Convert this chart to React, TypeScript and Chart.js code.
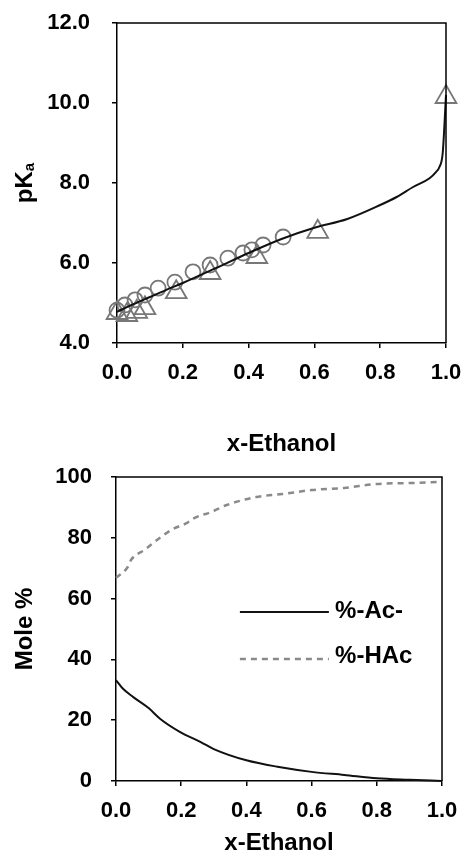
import React, { useEffect, useRef } from "react";
import { Chart, registerables } from "chart.js";

Chart.register(...registerables);

const FONT = "'Liberation Sans', Arial, Helvetica, sans-serif";

// ---------- Top chart: pKa vs x-Ethanol ----------
const pkaCurveX = [0, 0.05, 0.1, 0.15, 0.2, 0.3, 0.4, 0.5, 0.6, 0.7, 0.8, 0.85, 0.9, 0.95, 0.97, 0.98, 0.99, 1.0];
const pkaCurveY = [4.78, 4.97, 5.15, 5.33, 5.5, 5.87, 6.25, 6.6, 6.88, 7.1, 7.45, 7.65, 7.9, 8.12, 8.28, 8.4, 8.75, 10.2];
const circleX = [0.0, 0.024, 0.055, 0.085, 0.125, 0.176, 0.231, 0.283, 0.337, 0.383, 0.41, 0.444, 0.505];
const circleY = [4.82, 4.95, 5.08, 5.2, 5.37, 5.52, 5.78, 5.95, 6.12, 6.25, 6.33, 6.45, 6.65];
const triangleX = [0.0, 0.03, 0.06, 0.085, 0.18, 0.283, 0.425, 0.61, 1.0];
const triangleY = [4.75, 4.7, 4.78, 4.87, 5.27, 5.75, 6.15, 6.78, 10.15];

const xTickValues = [0, 0.2, 0.4, 0.6, 0.8, 1.0];
const xTickLabels = ["0.0", "0.2", "0.4", "0.6", "0.8", "1.0"];
const pkaTickValues = [4, 6, 8, 10, 12];
const pkaTickLabels = ["4.0", "6.0", "8.0", "10.0", "12.0"];

// ---------- Bottom chart: Mole % vs x-Ethanol ----------
const acX = [0, 0.02, 0.053, 0.1, 0.135, 0.197, 0.26, 0.3, 0.4, 0.5, 0.6, 0.7, 0.8, 0.9, 1.0];
const acY = [33.2, 30.5, 27.6, 24, 20.5, 16.1, 12.8, 10.5, 6.8, 4.6, 3.0, 2.0, 0.9, 0.4, 0];
const hacX = [0, 0.036, 0.046, 0.087, 0.135, 0.175, 0.218, 0.24, 0.293, 0.34, 0.43, 0.51, 0.6, 0.7, 0.8, 0.9, 1.0];
const hacY = [66.8, 70.4, 72.7, 76, 80, 82.9, 84.9, 86.5, 88.5, 90.8, 93.4, 94.4, 95.7, 96.4, 97.7, 98, 98.4];
const moleTickValues = [0, 20, 40, 60, 80, 100];
const moleTickLabels = ["0", "20", "40", "60", "80", "100"];
const seriesLabels = ["%-Ac-", "%-HAc"];

const xTitle = "x-Ethanol";
const moleTitle = "Mole %";

const pts = (xs: number[], ys: number[]) => xs.map((x, i) => ({ x, y: ys[i] }));

const boxPlugin = {
  id: "box",
  afterDraw(chart: any) {
    const { ctx, chartArea } = chart;
    ctx.save();
    ctx.strokeStyle = "#000";
    ctx.lineWidth = 1.5;
    ctx.beginPath();
    ctx.moveTo(chartArea.left, chartArea.top);
    ctx.lineTo(chartArea.right, chartArea.top);
    ctx.lineTo(chartArea.right, chartArea.bottom);
    ctx.stroke();
    ctx.restore();
  },
};

const pkaTitlePlugin = {
  id: "pkaTitle",
  afterDraw(chart: any) {
    const { ctx, chartArea } = chart;
    const cy = (chartArea.top + chartArea.bottom) / 2;
    ctx.save();
    ctx.translate(32, cy);
    ctx.rotate(-Math.PI / 2);
    ctx.fillStyle = "#000";
    ctx.textBaseline = "alphabetic";
    ctx.textAlign = "left";
    ctx.font = `bold 24px ${FONT}`;
    const w1 = ctx.measureText("pK").width;
    ctx.font = `bold 15px ${FONT}`;
    const w2 = ctx.measureText("a").width;
    const start = -(w1 + w2) / 2;
    ctx.font = `bold 24px ${FONT}`;
    ctx.fillText("pK", start, 0);
    ctx.font = `bold 15px ${FONT}`;
    ctx.fillText("a", start + w1, 2);
    ctx.restore();
  },
};

const legendPlugin = {
  id: "innerLegend",
  afterDatasetsDraw(chart: any) {
    const { ctx } = chart;
    const xs = chart.scales.x;
    const ys = chart.scales.y;
    const x0 = xs.getPixelForValue(0.38);
    const x1 = xs.getPixelForValue(0.653);
    const tx = xs.getPixelForValue(0.672);
    const rows = [
      { y: 55.6, ty: 55.9, ds: chart.data.datasets[0] },
      { y: 40.1, ty: 41.1, ds: chart.data.datasets[1] },
    ];
    ctx.save();
    rows.forEach((r) => {
      const py = ys.getPixelForValue(r.y);
      ctx.strokeStyle = r.ds.borderColor;
      ctx.lineWidth = r.ds.borderWidth;
      ctx.setLineDash(r.ds.borderDash || []);
      ctx.beginPath();
      ctx.moveTo(x0, py);
      ctx.lineTo(x1, py);
      ctx.stroke();
      ctx.setLineDash([]);
      ctx.fillStyle = "#000";
      ctx.font = `bold 24px ${FONT}`;
      ctx.textBaseline = "middle";
      ctx.textAlign = "left";
      ctx.fillText(r.ds.label, tx, ys.getPixelForValue(r.ty));
    });
    ctx.restore();
  },
};

const tickFont = { family: FONT, size: 22, weight: "bold" as const };
const titleFont = { family: FONT, size: 24, weight: "bold" as const, lineHeight: 1 };

function axisCommon() {
  return {
    border: { display: true, color: "#000", width: 1.5 },
    grid: { display: true, drawOnChartArea: false, drawTicks: true, tickLength: 5, color: "#000", lineWidth: 1.5 },
  };
}

function fixX(h: number) {
  return (s: any) => {
    s.height = h;
    s.paddingLeft = 0;
    s.paddingRight = 0;
    s.paddingTop = 0;
    s.paddingBottom = 0;
  };
}
function fixY(w: number) {
  return (s: any) => {
    s.width = w;
    s.paddingLeft = 0;
    s.paddingRight = 0;
    s.paddingTop = 0;
    s.paddingBottom = 0;
  };
}

export default function App() {
  const topRef = useRef<HTMLCanvasElement>(null);
  const botRef = useRef<HTMLCanvasElement>(null);

  useEffect(() => {
    const top = new Chart(topRef.current!, {
      type: "scatter",
      data: {
        datasets: [
          {
            label: "fit",
            data: pts(pkaCurveX, pkaCurveY),
            showLine: true,
            borderColor: "#111",
            borderWidth: 2,
            pointRadius: 0,
            cubicInterpolationMode: "monotone",
            clip: false,
          } as any,
          {
            label: "circles",
            data: pts(circleX, circleY),
            pointStyle: "circle",
            pointRadius: 7.5,
            borderColor: "#777",
            backgroundColor: "rgba(0,0,0,0)",
            borderWidth: 1.8,
            clip: false,
          } as any,
          {
            label: "triangles",
            data: pts(triangleX, triangleY),
            pointStyle: "triangle",
            pointRadius: 12,
            borderColor: "#777",
            backgroundColor: "rgba(0,0,0,0)",
            borderWidth: 1.8,
            clip: false,
          } as any,
        ],
      },
      options: {
        animation: false,
        responsive: false,
        layout: { padding: { top: 23, right: 16, bottom: 0, left: 0 } },
        plugins: { legend: { display: false }, tooltip: { enabled: false } },
        scales: {
          x: {
            type: "linear",
            min: 0,
            max: 1,
            ...axisCommon(),
            afterBuildTicks: (s: any) => { s.ticks = xTickValues.map((v) => ({ value: v })); },
            afterFit: fixX(117),
            ticks: { color: "#000", font: tickFont, padding: 12, maxRotation: 0, callback: (_v: any, i: number) => xTickLabels[i] },
            title: { display: true, text: xTitle, color: "#000", font: titleFont, padding: { top: 0, bottom: 4 } },
          },
          y: {
            type: "linear",
            min: 4,
            max: 12,
            ...axisCommon(),
            afterBuildTicks: (s: any) => { s.ticks = pkaTickValues.map((v) => ({ value: v })); },
            afterFit: fixY(117),
            ticks: { color: "#000", font: tickFont, padding: 22, callback: (_v: any, i: number) => pkaTickLabels[i] },
          },
        },
      } as any,
      plugins: [boxPlugin, pkaTitlePlugin],
    });

    const bot = new Chart(botRef.current!, {
      type: "scatter",
      data: {
        datasets: [
          {
            label: seriesLabels[0],
            data: pts(acX, acY),
            showLine: true,
            borderColor: "#111",
            borderWidth: 2,
            pointRadius: 0,
            cubicInterpolationMode: "monotone",
            clip: false,
          } as any,
          {
            label: seriesLabels[1],
            data: pts(hacX, hacY),
            showLine: true,
            borderColor: "#8a8a8a",
            borderWidth: 2.5,
            borderDash: [6, 5],
            pointRadius: 0,
            cubicInterpolationMode: "monotone",
            clip: false,
          } as any,
        ],
      },
      options: {
        animation: false,
        responsive: false,
        layout: { padding: { top: 17, right: 20, bottom: 0, left: 0 } },
        plugins: { legend: { display: false }, tooltip: { enabled: false } },
        scales: {
          x: {
            type: "linear",
            min: 0,
            max: 1,
            ...axisCommon(),
            afterBuildTicks: (s: any) => { s.ticks = xTickValues.map((v) => ({ value: v })); },
            afterFit: fixX(75),
            ticks: { color: "#000", font: tickFont, padding: 12, maxRotation: 0, callback: (_v: any, i: number) => xTickLabels[i] },
            title: { display: true, text: xTitle, color: "#000", font: titleFont, padding: { top: 0, bottom: 0.5 } },
          },
          y: {
            type: "linear",
            min: 0,
            max: 100,
            ...axisCommon(),
            afterBuildTicks: (s: any) => { s.ticks = moleTickValues.map((v) => ({ value: v })); },
            afterFit: fixY(116),
            ticks: { color: "#000", font: tickFont, padding: 19, callback: (_v: any, i: number) => moleTickLabels[i] },
            title: { display: true, text: moleTitle, color: "#000", font: titleFont, padding: { top: 13, bottom: 0 } },
          },
        },
      } as any,
      plugins: [boxPlugin, legendPlugin],
    });

    return () => {
      top.destroy();
      bot.destroy();
    };
  }, []);

  return (
    <div style={{ position: "absolute", left: 0, top: 0, width: 462, height: 856, background: "#fff", overflow: "hidden" }}>
      <canvas ref={topRef} width={462} height={460} style={{ position: "absolute", left: 0, top: 0, display: "block" }} />
      <canvas ref={botRef} width={462} height={396} style={{ position: "absolute", left: 0, top: 460, display: "block" }} />
    </div>
  );
}
